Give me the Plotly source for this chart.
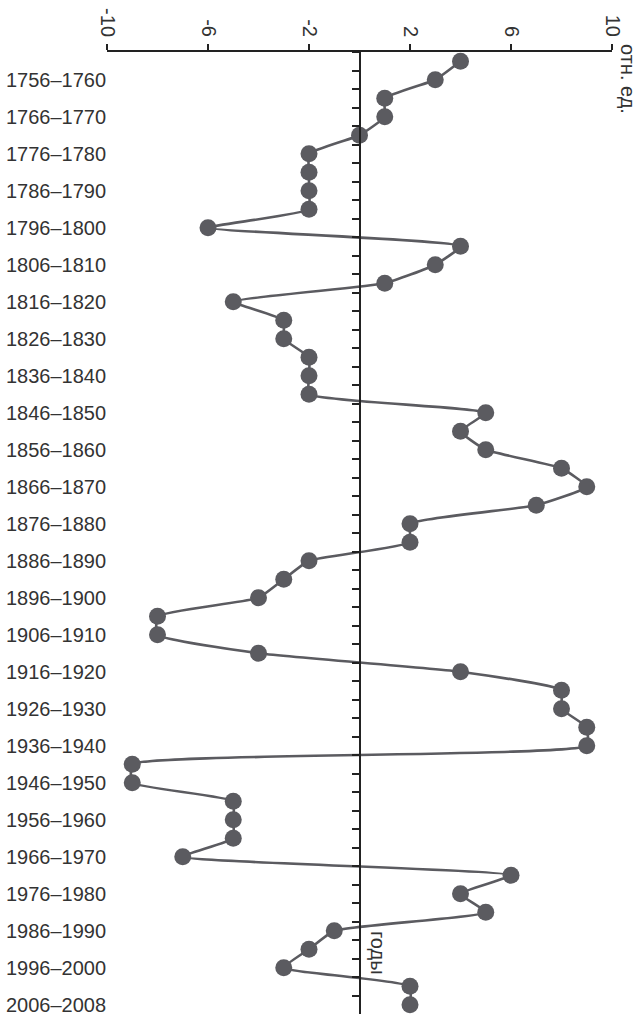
import plotly.graph_objects as go

# пятилетия 1751–1755 ... 2006–2008
periods = [f"{y}–{y + 4}" for y in range(1751, 2006, 5)] + ["2006–2008"]
values = [4, 3, 1, 1, 0, -2, -2, -2, -2, -6,
          4, 3, 1, -5, -3, -3, -2, -2, -2, 5,
          4, 5, 8, 9, 7, 2, 2, -2, -3, -4,
          -8, -8, -4, 4, 8, 8, 9, 9, -9, -9,
          -5, -5, -5, -7, 6, 4, 5, -1, -2, -3,
          2, 2]
x_ticks = [-10, -6, -2, 2, 6, 10]
x_text = ["-10", "-6", "-2", "2", "6", "10"]

grey = "#5b5b60"
font = dict(family="Liberation Sans, Arial, sans-serif", size=20, color="#333333")

fig = go.Figure()
fig.add_trace(go.Scatter(
    x=values, y=periods, mode="lines+markers",
    line=dict(color=grey, width=2.6, shape="spline", smoothing=0.4),
    marker=dict(color=grey, size=17),
    cliponaxis=False, showlegend=False,
))
# невидимый след для оси на нуле
fig.add_trace(go.Scatter(x=[0] * len(periods), y=periods, yaxis="y2",
                         mode="markers", marker=dict(opacity=0),
                         showlegend=False, hoverinfo="skip"))

fig.update_layout(
    width=643, height=1022,
    margin=dict(l=107, r=31, t=52, b=8),
    plot_bgcolor="white", paper_bgcolor="white",
    font=font,
    xaxis=dict(range=[-10, 10], side="top", tickvals=x_ticks, ticktext=x_text,
               tickangle=90, showline=True, linecolor="#222222", linewidth=2,
               ticks="outside", ticklen=6, tickwidth=2, tickcolor="#222222",
               showgrid=False, zeroline=False, automargin=False),
    yaxis=dict(categoryorder="array", categoryarray=periods,
               autorange=False, range=[len(periods) - 0.5, -0.5],
               tickvals=periods[1::2], showline=False, ticks="",
               showgrid=False, zeroline=False, ticklabelstandoff=0,
               automargin=False),
    yaxis2=dict(overlaying="y", matches="y", anchor="free", position=0.5,
                side="left", showticklabels=False, tickson="boundaries",
                categoryorder="array", categoryarray=periods,
                showline=True, linecolor="#222222", linewidth=2,
                ticks="outside", ticklen=7, tickwidth=2, tickcolor="#222222",
                showgrid=False, zeroline=False, automargin=False),
    annotations=[
        dict(text="отн. ед.", textangle=90, xref="paper", yref="paper",
             x=1.0, y=1.0, xanchor="left", yanchor="top", xshift=3, yshift=10,
             showarrow=False, font=font),
        dict(text="годы", textangle=90, xref="x", yref="paper",
             x=0, y=0.064, xanchor="left", yanchor="middle", xshift=5,
             showarrow=False, font=font),
    ],
)

# убрать стандартный отступ страницы
fig.write_html("out.html", config={"displayModeBar": False},
               post_script="document.body.style.margin='0';")
